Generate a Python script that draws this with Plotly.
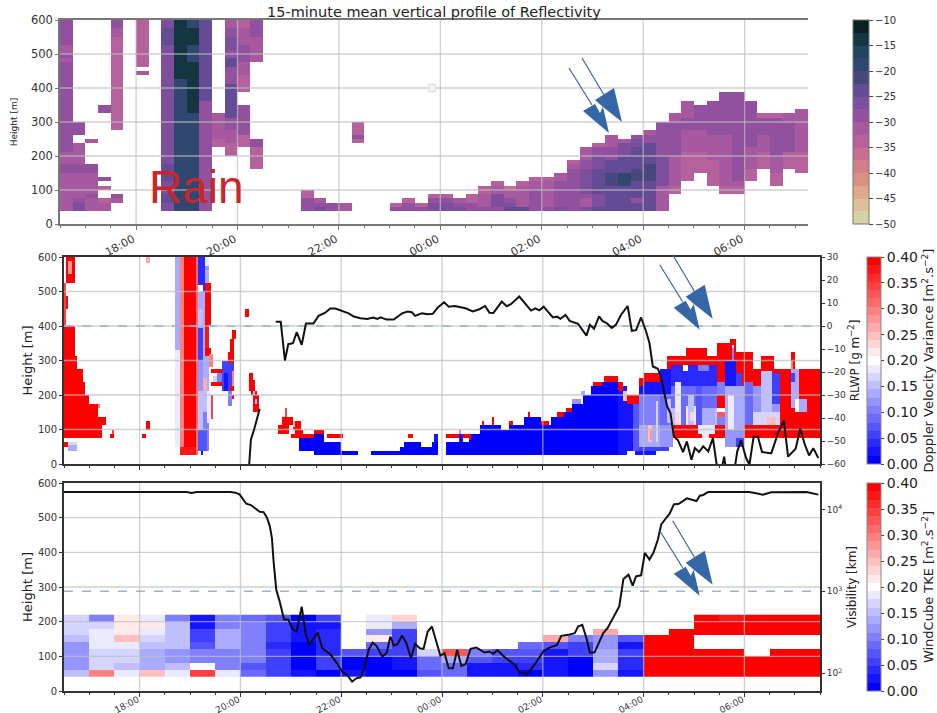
import plotly.graph_objects as go

# ---------- time axis: minutes since 16:30 ----------
TICK_MINUTES = [90, 210, 330, 450, 570, 690, 810]
TICK_LABELS = ["18:00", "20:00", "22:00", "00:00", "02:00", "04:00", "06:00"]
HEIGHT_TICKS = [0, 100, 200, 300, 400, 500, 600]

# ---------- panel 1: reflectivity, 15-minute columns, (bottom, top, dBZ) ----------
REFL_COLUMNS = {
 0: [(37.5,150,-32),(150,175,-28),(175,212,-32),(212,237,-29),(237,475,-28),(475,487,-32),(487,500,-29),(500,525,-32),(525,600,-28)],
 1: [(37.5,62,-26),(62,75,-30),(75,150,-32),(150,175,-29),(175,200,-32),(200,237,-31),(262,300,-30)],
 2: [(37.5,75,-32),(75,87,-29),(87,150,-32),(150,162,-28),(162,175,-30),(237,250,-31)],
 3: [(37.5,62,-32),(62,75,-33),(100,112,-33),(125,137,-29),(325,350,-30)],
 4: [(62,75,-31),(75,87,-28),(275,550,-33),(550,575,-31),(575,600,-30)],
 6: [(437,450,-32),(462,600,-33)],
 8: [(37.5,62,-27),(62,87,-25),(87,125,-27),(125,175,-25),(175,525,-26),(525,575,-24),(575,600,-27)],
 9: [(37.5,425,-19),(425,600,-15)],
 10: [(37.5,187,-18),(187,262,-20),(262,325,-19),(325,475,-15),(475,525,-18),(525,575,-15),(575,600,-19)],
 11: [(37.5,362,-28),(362,600,-25)],
 12: [(225,250,-34),(250,325,-31)],
 13: [(200,237,-33),(237,275,-31),(275,300,-29),(300,312,-28),(312,412,-25),(412,462,-29),(462,487,-24),(487,512,-29),(512,550,-26),(550,575,-29),(575,600,-32)],
 14: [(225,262,-33),(262,350,-30),(387,437,-33),(437,475,-31),(475,525,-30),(525,575,-32),(575,600,-33)],
 15: [(162,225,-33),(225,250,-30),(475,550,-31),(550,575,-30),(575,600,-28)],
 19: [(37.5,75,-30),(75,100,-33)],
 20: [(37.5,50,-27),(50,62,-30),(62,75,-32)],
 21: [(37.5,62,-30)],
 22: [(37.5,62,-31)],
 23: [(237,250,-33),(250,262,-28),(262,300,-33)],
 26: [(37.5,50,-30),(50,62,-33)],
 27: [(37.5,50,-28),(50,62,-30),(62,75,-33)],
 28: [(37.5,50,-29),(50,62,-33)],
 29: [(37.5,50,-26),(50,62,-27),(62,75,-28),(75,87,-33)],
 30: [(37.5,50,-26),(50,62,-27),(62,75,-30),(75,87,-33)],
 31: [(37.5,50,-26),(50,62,-29),(62,75,-31)],
 32: [(37.5,50,-28),(50,62,-30),(62,87,-33)],
 33: [(37.5,50,-29),(50,87,-31),(87,100,-33),(100,112,-33)],
 34: [(37.5,50,-28),(50,87,-27),(87,112,-31),(112,125,-33)],
 35: [(37.5,50,-25),(50,62,-26),(62,75,-28),(75,100,-32),(100,112,-36)],
 36: [(37.5,50,-25),(50,75,-31),(75,112,-32),(112,125,-33)],
 37: [(37.5,50,-28),(50,100,-29),(100,125,-31),(125,137,-34)],
 38: [(37.5,50,-28),(50,100,-31),(100,125,-31),(125,137,-33)],
 39: [(37.5,50,-27),(50,125,-29),(125,150,-31)],
 40: [(37.5,100,-29),(100,162,-28),(162,175,-31),(175,187,-33)],
 41: [(37.5,50,-26),(50,75,-31),(75,87,-29),(87,162,-26),(162,187,-28),(187,225,-31)],
 42: [(37.5,50,-25),(50,87,-26),(87,162,-24),(162,200,-26),(200,225,-29),(225,237,-34)],
 43: [(37.5,50,-23),(50,112,-25),(112,150,-22),(150,187,-25),(187,225,-29),(225,262,-31)],
 44: [(37.5,112,-25),(112,150,-20),(150,200,-23),(200,225,-26),(225,237,-27),(237,250,-31)],
 45: [(37.5,62,-25),(62,75,-29),(75,125,-25),(125,162,-21),(162,225,-24),(225,250,-27),(250,262,-29)],
 46: [(37.5,125,-25),(125,175,-21),(175,237,-25),(237,262,-28),(262,275,-31)],
 47: [(37.5,112,-31),(112,137,-27),(137,200,-26),(200,250,-28),(250,300,-29)],
 48: [(87,112,-33),(112,200,-31),(200,237,-29),(237,275,-28),(275,300,-29),(300,325,-32)],
 49: [(125,150,-33),(150,212,-35),(212,275,-31),(275,312,-29),(312,362,-31)],
 50: [(150,175,-33),(175,212,-34),(212,275,-31),(275,300,-29),(300,350,-30)],
 51: [(112,137,-33),(137,187,-34),(187,262,-31),(262,325,-28),(325,362,-30)],
 52: [(87,112,-33),(112,125,-32),(125,262,-31),(262,362,-28),(362,387,-30)],
 53: [(87,112,-33),(112,125,-32),(125,212,-30),(212,362,-28),(362,387,-30)],
 54: [(125,162,-33),(162,225,-31),(225,325,-28),(325,362,-30)],
 55: [(162,212,-34),(212,262,-31),(262,312,-29),(312,325,-33)],
 56: [(112,150,-33),(150,200,-31),(200,250,-28),(250,312,-29),(312,325,-33)],
 57: [(162,212,-33),(212,300,-30),(300,325,-32)],
 58: [(150,212,-33),(212,325,-31),(325,337,-32)],
}
SPECK_MIN = [440]
SPECK_HEIGHT = [400]

# ---------- panel 2: Doppler velocity variance patches (t0, t1, h0, h1, value); later patches overlay ----------
VARIANCE_PATCHES = [
 # early wedge
 (0,12,75,400,.4),(12,16,75,311,.4),(16,23,75,277,.4),(23,25,75,240,.4),(25,30,75,200,.4),(30,40,75,176,.4),(40,45,75,138,.4),(45,49,114,138,.4),
 (2,12,525,600,.4),(4,10,550,585,.28),(0,6,450,490,.4),(0,2,400,525,.35),(0,4,51,64,.4),(6,14,40,64,.14),(6,14,55,64,.17),(41,42,162,176,.3),
 (55,60,75,90,.4),(58,60,90,100,.35),(70,71,115,130,.25),(92,97,75,90,.4),(98,103,100,126,.4),(98,102,580,600,.26),
 # rain
 (133,137,50,330,.18),(133,137,330,600,.14),(137,142,27,600,.3),(142,158,27,600,.4),(137,158,27,50,.38),(158,160,27,600,.32),
 (160,173,40,600,.13),(162,165,27,40,.03),(160,167,500,600,.04),(167,172,560,600,.12),(168,173,572,600,.18),(160,164,500,520,.2),
 (167,174,400,525,.4),(168,173,325,400,.37),(160,165,300,395,.05),(160,165,210,300,.12),(160,164,400,450,.15),(160,170,100,210,.16),
 (165,173,40,150,.1),(160,170,40,100,.08),(165,170,215,250,.27),(170,174,120,215,.19),
 # wisps
 (167,175,310,335,.4),(172,178,280,320,.3),(175,190,237,263,.2),(175,188,263,276,.4),(175,190,226,237,.4),(178,188,240,255,.17),
 (182,190,240,262,.1),(188,202,210,300,.05),(190,196,215,260,.02),(194,202,296,328,.4),(198,202,316,360,.4),(200,206,360,388,.4),
 (197,203,210,225,.4),(197,203,186,200,.4),(196,199,170,210,.1),(200,203,225,270,.3),(175,178,130,200,.35),
 # isolated blob
 (214.5,219,427,451,.4),(220,226,240,263,.4),(221,228,215,245,.4),(222,230,200,215,.4),(224,227,195,215,.15),(226,233,152,200,.4),(228,231,175,190,.15),
 # low-level onset
 (254,268,90,114,.4),(261,272,114,138,.4),(262,265,138,162,.35),(273,282,100,126,.4),(272,275,105,125,.25),(269,297,75,90,.4),(276,286,90,101,.4),
 (297,311,87,102,.4),(312,332,75,90,.4),(280,297,39,75,0),(297,311,27,90,0),(311,331,27,64,0),(331,351,27,39,0),(297,299,39,75,0),
 (364,400,27,39,0),(400,404,27,51,0),(404,425,27,64,0),(425,438,27,51,0),(438,445,27,64,0),(409,415,75,90,.4),(439,441,75,90,.25),(441,444,64,90,.02),(444,445,90,103,.3),
 (455,483,27,64,0),(455,470,75,90,.4),(470,474,64,90,.03),(474,483,75,90,.4),(471,472,90,100,.3),
 # fog growth
 (483,486,27,66,0),(483,486,66,90,.4),(486,496,27,90,0),(496,519,27,114,0),(519,530,27,101,0),(530,548,27,114,0),(548,568,27,138,0),(568,580,27,114,0),
 (580,587,27,138,0),(587,598,27,152,0),(598,606,27,164,0),(606,618,27,176,.01),(618,628,27,200,.01),(628,641,27,225,.01),(641,659,27,237,.01),(659,669,27,225,.03),
 (497,501,114,126,.4),(510,512,114,138,.4),(530,536,114,126,.4),(552,554,138,150,.4),(568,578,114,126,.4),(587,596,138,152,.4),(598,604,152,164,.4),
 (606,616,176,188,.12),(616,620,200,215,.14),(629,641,225,238,.4),(643,660,237,254,.4),(660,665,210,237,.4),(665,669,180,210,.25),(671,685,176,200,.4),
 # transition
 (669,678,40,176,.03),(678,686,40,176,.08),(681,705,27,40,.03),(686,710,200,240,.03),(686,710,110,200,.1),(686,710,50,110,.14),(686,720,40,50,.05),
 (694,700,60,110,.25),(697,700,70,100,.28),(704,708,60,180,.17),(690,709,240,263,.4),(686,690,225,250,.4),
 # mature layer: red outer envelope
 (711,717,75,276,.4),(717,741,75,311,.4),(741,766,75,338,.4),(766,778,75,311,.4),(778,792,75,352,.4),(792,800,75,360,.4),(800,820,75,326,.4),
 (820,830,75,276,.4),(830,846,75,311,.4),(846,864,75,276,.4),(864,870,75,326,.4),(870,900,75,276,.4),
 (710,725,200,278,.03),(710,725,110,200,.09),(710,725,50,110,.12),(718,723,120,185,.16),
 # mature layer: inner streaks
 (722,777,224,285,.04),(722,777,165,224,.09),(722,777,113,165,.15),(727,735,113,240,.19),(728,733,113,150,.23),(735,741,113,223,.09),(741,753,113,170,.19),(743,750,113,200,.16),
 (745,749,125,150,.23),(753,761,113,223,.07),(755,776,78,113,.19),(761,775,113,165,.13),(755,761,75,85,.4),(767,775,75,85,.4),(755,768,270,285,.1),(738,742,270,285,.2),
 (777,787,239,300,.4),(777,787,200,239,.1),(777,787,164,200,.4),(777,787,147,164,.2),(777,787,135,147,.33),(777,787,113,135,.1),
 (787,800,224,300,.03),(794,798,300,335,.1),(796,798,335,345,.22),(787,809,100,224,.13),(789,797,100,200,.19),(788,809,50,100,.12),(800,809,50,75,.05),(800,808,224,265,.06),
 (809,821,113,240,.09),(820,852,113,224,.12),(830,843,150,270,.16),(843,852,176,262,.05),(820,852,113,150,.17),(838,848,113,135,.25),
 (864,874,165,277,.13),(866,870,240,265,.06),(870,876,150,190,.2),(874,886,150,190,.13),(864,868,277,300,.3),
]

# ---------- RLWP line ----------
RLWP_EARLY_MIN = [220.5, 222.5, 226.5, 233]
RLWP_EARLY_VAL = [-60, -49.4, -44.8, -36]
RLWP_MIN = [252,258,263,267,272.5,277,283,288,297,303,311,317,323,331,339,345,353,361,368,373,377,384,392.5,402.5,409,414,418,426,433,439,445,452.5,458,465,472,478,
 486.6,494.6,501.3,506.5,511.2,521.2,527,532,542,550,556,561,566,571,576,582,587,591,597,602,612,616,622,626,631,637,641,646,652,657,663,671,676,681,687,693,697,701,707,711,718,722,726,731,737,741.5,747,751,756,761,767,772.5,777,782,786,788,798,801.5,806,812,816,821,826,831,842,850,857,862,871,876.5,882,887,892,898]
RLWP_VAL = [1.8,1.8,-15,-7.9,-7.5,-2.7,-8.2,1.1,1.1,4.4,5.8,7.6,7.6,6.6,5.5,4.1,3.4,3.1,3.7,3.1,3.8,2.8,2.8,5.5,6.3,6.0,4.4,5.5,5.1,5.3,8.1,10.3,8.4,8.7,8,7.7,
 6.3,7.3,8.7,5.8,5.7,10.6,8.6,9.5,12.8,9.5,6.7,7.7,6.8,8.4,6.3,3.7,4.1,3.1,4.8,2.2,0.9,-1,-4.2,0.5,-1.2,4.2,2.2,1.3,-0.8,0.5,4.8,8.7,-2.1,-1.8,3.7,-2.4,-7.5,-17.6,-18.6,-22.7,-35,-37.9,-48,-49.7,-54.8,-50.2,-58.1,-53.1,-54.8,-52.3,-54.5,-48.7,-60.3,-63.2,-56.8,-63,-63,-54.5,-49.7,-57.4,-60.3,-48,-48,-54.8,-55.4,-46.6,-41.1,-56.8,-53.4,-44.7,-51.6,-56.3,-53.1,-57.4]

# ---------- panel 3: WindCube TKE, 30-minute columns, heights 40..220 m in 20 m rows ----------
TKE_ROW_BOTTOM = [40, 60, 80, 100, 120, 140, 160, 180, 200]
N = None
TKE_COLUMNS = [
 [.15,.12,.12,.12,.12,.15,.17,.17,.17],
 [.3,.17,.17,.17,.19,.19,.19,.17,.11],
 [.19,.15,.17,.17,.19,.24,.21,.21,.21],
 [.25,.14,.14,.14,.15,.17,.19,.21,.19],
 [.19,.15,.12,.12,.15,.15,.15,.15,.11],
 [.35,.2,.1,.1,.07,.05,.05,.03,.02],
 [.19,.1,.1,.1,.13,.13,.13,.1,.1],
 [.09,.07,.1,.1,.11,.11,.11,.11,.09],
 [.06,.06,.06,.06,.04,.05,.05,.06,.07],
 [.02,.01,.01,.01,.01,.02,.02,.03,.01],
 [.01,.06,.06,.04,.04,.04,.04,.02,.06],
 [.02,.01,.01,.07,N,N,N,N,N],
 [.01,.01,.01,.06,.09,.22,.12,.19,.19],
 [.01,.03,.03,.05,.05,.05,.06,.13,.23],
 [.07,.09,.09,.17,N,N,N,N,N],
 [.09,.09,.13,.33,N,N,N,N,N],
 [.03,.03,.08,.11,N,N,N,N,N],
 [.03,.03,.06,.07,N,N,N,N,N],
 [.01,.04,.06,.08,.09,N,N,N,N],
 [.03,.03,.03,.03,.07,.27,N,N,N],
 [.01,.01,.01,.05,.06,.11,N,N,N],
 [.12,.17,.14,.14,.12,.12,.26,N,N],
 [.02,.04,.04,.05,.03,.07,N,N,N],
 [.4,.4,.4,.4,.4,.4,N,N,N],
 [.4,.4,.4,.4,.4,.4,.4,N,N],
 [.4,.4,.4,.4,N,N,.4,.4,.4],
 [.4,.4,.4,.4,N,N,.4,.4,.37],
 [.4,.4,.4,N,N,N,.4,.4,.4],
 [.4,.4,.4,.4,N,N,.4,.4,.4],
 [.4,.4,.4,.4,N,N,.4,.4,.4],
]

# ---------- visibility line (log10 of value) ----------
VIS_MIN = [0,146,152,158,198,204,209,213,217,222.5,228,233,237.6,241.6,245,247.5,249.5,252.7,256.7,262,267,272,277,283,288,292,302,307.5,317,325,331,337,343,348,353,357.6,362.7,367.5,372,379,384,388.6,392.5,397,402.5,407.6,413,418,423.5,428,433,438,448,453,458,463,468,473,478,484,
 491,500.5,506.5,511,516,526,536,542,551,560,571,578,587,592,600,608,612,617,622,626,631.5,642,647,653,661,666,672,677,681,687,691.5,697,702,707,711,717,721,726,732,741.5,747,753,757,761,767,816,824,832,842,884,898]
VIS_LOG10 = [4.212,4.212,4.2,4.212,4.212,4.204,4.184,4.122,4.069,4.053,4.012,3.971,3.967,3.898,3.796,3.653,3.367,3.02,2.878,2.657,2.657,2.539,2.51,2.812,2.469,2.347,2.498,2.306,2.233,2.122,2.02,1.98,1.898,1.939,1.951,2.061,2.286,2.376,2.335,2.204,2.245,2.449,2.339,2.355,2.461,2.367,2.184,2.359,2.306,2.298,2.51,2.571,2.216,2.245,2.061,2.061,2.286,2.09,2.11,2.298,
 2.314,2.253,2.265,2.237,2.282,2.184,2.11,2.02,1.988,2.102,2.273,2.314,2.347,2.457,2.469,2.49,2.571,2.592,2.429,2.253,2.253,2.49,2.551,2.673,2.816,3.151,3.204,3.069,3.184,3.196,3.469,3.388,3.478,3.633,3.816,3.898,3.947,4.061,4.069,4.135,4.122,4.102,4.167,4.176,4.212,4.212,4.196,4.18,4.208,4.212,4.18]

# ---------- colours ----------
REFL_COLORS = ["#d6d2a4","#ddc096","#dfa98c","#da9184","#d27f8a","#c66f91","#b5619b","#a7599f","#92519f","#7d4e9e","#644b96","#48487f","#30486f","#1f4460","#143640","#0c2020"]
BWR_LEVELS = 25
WIDE = "DejaVu Sans"
ARROW_BLUE = "#3566a5"
GRID = "rgba(190,190,190,0.72)"
DASH = "#8fb8dc"


def stepped(colors):
    n = len(colors)
    out = []
    for i, c in enumerate(colors):
        out += [[i / n, c], [(i + 1) / n, c]]
    return out


def bwr_scale():
    cols = []
    for i in range(BWR_LEVELS):
        t = i / (BWR_LEVELS - 1)
        if t < .5:
            v = round(255 * t * 2)
            cols.append(f"rgb({v},{v},255)")
        else:
            v = round(255 * (1 - t) * 2)
            cols.append(f"rgb(255,{v},{v})")
    return stepped(cols)


def refl_grid():
    xs = [7.5 + 15 * i for i in range(59)]
    ys = [43.75 + 12.5 * j for j in range(45)]
    z = [[None] * 59 for _ in ys]
    for col, runs in REFL_COLUMNS.items():
        for lo, hi, v in runs:
            for j, y in enumerate(ys):
                if lo - 1 <= y - 6.25 and y + 6.25 <= hi + 1.5:
                    z[j][col] = v
    return xs, ys, z


def variance_grid():
    xs = [1.25 + 2.5 * i for i in range(360)]
    ys = [3.125 + 6.25 * j for j in range(96)]
    z = [[None] * 360 for _ in ys]
    for t0, t1, h0, h1, v in VARIANCE_PATCHES:
        for j, y in enumerate(ys):
            if h0 <= y <= h1:
                for i, x in enumerate(xs):
                    if t0 <= x <= t1:
                        z[j][i] = v
    return xs, ys, z


def grid_trace(xa, ya, xmax, ymin=0, ymax=600):
    gx, gy = [], []
    for t in TICK_MINUTES:
        gx += [t, t, None]
        gy += [ymin, ymax, None]
    for h in HEIGHT_TICKS[1:-1]:
        gx += [0, xmax, None]
        gy += [h, h, None]
    return go.Scatter(x=gx, y=gy, xaxis=xa, yaxis=ya, mode="lines", line=dict(color=GRID, width=1.3),
                      hoverinfo="skip", showlegend=False)


W, H = 937, 713
fx = lambda p: p / W
fy = lambda p: 1 - p / H

fig = go.Figure()

# panel 1
x1, y1, z1 = refl_grid()
fig.add_trace(go.Heatmap(x=x1, y=y1, z=z1, xaxis="x", yaxis="y", zmin=-50, zmax=-10, colorscale=stepped(REFL_COLORS),
    hoverongaps=False,
    colorbar=dict(x=fx(853), xanchor="left", xpad=0, y=fy(20), yanchor="top", ypad=0, len=204 / H, thickness=16,
                  tickvals=[-50, -45, -40, -35, -30, -25, -20, -15, -10], ticks="outside", ticklen=4,
                  tickfont=dict(family=WIDE, size=10, color="#333"), outlinecolor="#777", outlinewidth=1)))
fig.add_trace(grid_trace("x", "y", 885))
fig.add_trace(go.Scatter(x=SPECK_MIN, y=SPECK_HEIGHT, xaxis="x", yaxis="y", mode="markers", hoverinfo="skip",
                         marker=dict(symbol="square", size=7, color="#f4f4f4", line=dict(color="#dddddd", width=1))))

# panel 2
x2, y2, z2 = variance_grid()
fig.add_trace(go.Heatmap(x=x2, y=y2, z=z2, xaxis="x2", yaxis="y2", zmin=0, zmax=.4, colorscale=bwr_scale(), hoverongaps=False,
    colorbar=dict(x=fx(867), xanchor="left", xpad=0, y=fy(257), yanchor="top", ypad=0, len=207 / H, thickness=14,
                  tickvals=[0, .05, .1, .15, .2, .25, .3, .35, .4], tickformat=".2f", ticks="outside", ticklen=3,
                  tickfont=dict(family=WIDE, size=14, color="#222"), outlinecolor="#888", outlinewidth=1,
                  title=dict(text="Doppler Velocity Variance [m<sup>2</sup>.s<sup>\u22122</sup>]", side="right",
                             font=dict(family=WIDE, size=13, color="#222")))))
fig.add_trace(grid_trace("x2", "y2", 900))
fig.add_trace(go.Scatter(x=[0, 900], y=[0, 0], xaxis="x2", yaxis="y4", mode="lines",
                         line=dict(color=DASH, width=1.5, dash="dash"), hoverinfo="skip"))
fig.add_trace(go.Scatter(x=RLWP_EARLY_MIN, y=RLWP_EARLY_VAL, xaxis="x2", yaxis="y4", mode="lines", line=dict(color="#111", width=2)))
fig.add_trace(go.Scatter(x=RLWP_MIN, y=RLWP_VAL, xaxis="x2", yaxis="y4", mode="lines", line=dict(color="#111", width=2)))

# panel 3
x3 = [15 + 30 * i for i in range(30)]
y3 = [b + 10 for b in TKE_ROW_BOTTOM]
z3 = [[col[j] for col in TKE_COLUMNS] for j in range(len(TKE_ROW_BOTTOM))]
fig.add_trace(go.Heatmap(x=x3, y=y3, z=z3, xaxis="x3", yaxis="y3", zmin=0, zmax=.4, colorscale=bwr_scale(), hoverongaps=False,
    colorbar=dict(x=fx(867), xanchor="left", xpad=0, y=fy(483), yanchor="top", ypad=0, len=208 / H, thickness=14,
                  tickvals=[0, .05, .1, .15, .2, .25, .3, .35, .4], tickformat=".2f", ticks="outside", ticklen=3,
                  tickfont=dict(family=WIDE, size=14, color="#222"), outlinecolor="#888", outlinewidth=1,
                  title=dict(text="WindCube TKE [m<sup>2</sup>.s<sup>\u22122</sup>]", side="right",
                             font=dict(family=WIDE, size=13, color="#222")))))
fig.add_trace(grid_trace("x3", "y3", 900))
fig.add_trace(go.Scatter(x=[0, 900], y=[1000, 1000], xaxis="x3", yaxis="y5", mode="lines",
                         line=dict(color=DASH, width=1.5, dash="dash"), hoverinfo="skip"))
fig.add_trace(go.Scatter(x=VIS_MIN, y=[10 ** v for v in VIS_LOG10], xaxis="x3", yaxis="y5", mode="lines",
                         line=dict(color="#111", width=2)))


def xaxis(px0, px1, xmax, anchor, labels, size, color, lw, standoff=0, shift=0):
    return dict(domain=[fx(px0), fx(px1)], range=[0, xmax], anchor=anchor, showgrid=False, zeroline=False, automargin=False,
                tickmode="array", tickvals=TICK_MINUTES, ticktext=TICK_LABELS, showticklabels=labels,
                ticklabelstandoff=standoff, ticklabelshift=shift,
                tickangle=-28, tickfont=dict(family=WIDE, size=size, color="#333"),
                ticks="outside", ticklen=4, tickcolor=color, mirror=True, showline=True, linecolor=color, linewidth=lw,
                minor=dict(tickmode="linear", tick0=0, dtick=30, ticks="outside", ticklen=2, tickcolor=color, showgrid=False))


def yaxis(py0, py1, anchor, size, title_size, color, lw, standoff):
    return dict(domain=[fy(py1), fy(py0)], range=[0, 600], anchor=anchor, showgrid=False, zeroline=False, automargin=False,
                tickmode="array", tickvals=HEIGHT_TICKS, ticks="outside", ticklen=3, tickcolor=color,
                tickfont=dict(family=WIDE, size=size, color="#333"),
                showline=True, linecolor=color, linewidth=lw,
                title=dict(text="Height [m]", font=dict(family=WIDE, size=title_size, color="#222"), standoff=standoff))


shapes = []


def arrows(dx, dy):
    """Two callout arrows (paper pixels)."""
    def P(pts):
        s = "M" + " L".join(f"{fx(x + dx):.5f},{fy(y + dy):.5f}" for x, y in pts) + " Z"
        return dict(type="path", xref="paper", yref="paper", path=s, fillcolor=ARROW_BLUE, line=dict(color=ARROW_BLUE, width=0), layer="above")
    def L(a, b):
        return dict(type="line", xref="paper", yref="paper", x0=fx(a[0] + dx), y0=fy(a[1] + dy), x1=fx(b[0] + dx), y1=fy(b[1] + dy),
                    line=dict(color=ARROW_BLUE, width=1.2), layer="above")
    return [L((569, 68), (592, 105)), L((582, 58), (604, 95)),
            P([(583, 111), (595, 104), (600, 113), (603, 107), (609, 133)]),
            P([(595, 100), (614, 88), (622, 122), (603, 107)])]


for d in [(0, 0), (90.7, 196.7), (90.7, 462.7)]:
    shapes += arrows(*d)

fig.update_layout(
    template="none",
    width=W, height=H, margin=dict(l=0, r=0, t=0, b=0, pad=0, autoexpand=False), paper_bgcolor="white", plot_bgcolor="white", showlegend=False,
    font=dict(family=WIDE),
    xaxis=xaxis(60, 808, 885, "y", True, 11, "#777", 1.5, standoff=-1, shift=-3),
    yaxis=yaxis(20, 224, "x", 11.5, 9, "#777", 1.5, 12),
    xaxis2=xaxis(64, 820, 900, "y2", False, 9, "#333", 2),
    yaxis2=yaxis(257, 464, "x2", 10, 13, "#333", 2, 2),
    xaxis3=xaxis(64, 820, 900, "y3", True, 9, "#333", 2, standoff=-6, shift=-2),
    yaxis3=yaxis(483, 691, "x3", 10, 13, "#333", 2, 2),
    yaxis4=dict(overlaying="y2", side="right", anchor="x2", range=[-60, 30], dtick=10, showgrid=False, zeroline=False, automargin=False,
                ticks="outside", ticklen=3, tickcolor="#333", showline=True, linecolor="#333", linewidth=2,
                tickfont=dict(family=WIDE, size=9, color="#333"),
                title=dict(text="RLWP [g m<sup>\u22122</sup>]", font=dict(family=WIDE, size=12, color="#222"), standoff=6)),
    yaxis5=dict(overlaying="y3", side="right", anchor="x3", type="log", range=[1.784, 4.322], showgrid=False, zeroline=False, automargin=False,
                tickmode="array", tickvals=[100, 1000, 10000],
                ticktext=["10<sup>2</sup>", "10<sup>3</sup>", "10<sup>4</sup>"],
                ticks="outside", ticklen=3, tickcolor="#333", showline=True, linecolor="#333", linewidth=2,
                tickfont=dict(family=WIDE, size=9, color="#333"),
                title=dict(text="Visibility [km]", font=dict(family=WIDE, size=12, color="#222"), standoff=6)),
    shapes=shapes,
    annotations=[
        dict(text="15-minute mean vertical profile of Reflectivity", xref="paper", yref="paper", x=fx(434), y=fy(12),
             xanchor="center", yanchor="middle", showarrow=False, font=dict(family=WIDE, size=14.5, color="#222")),
        dict(text="Rain", xref="paper", yref="paper", x=fx(196), y=fy(187), xanchor="center", yanchor="middle", showarrow=False,
             font=dict(family="Liberation Sans", size=46, color="#c9252a")),
    ],
)

fig.write_html("out.html", config=dict(displayModeBar=False),
               post_script="document.body.style.margin='0';document.documentElement.style.overflow='hidden';")
